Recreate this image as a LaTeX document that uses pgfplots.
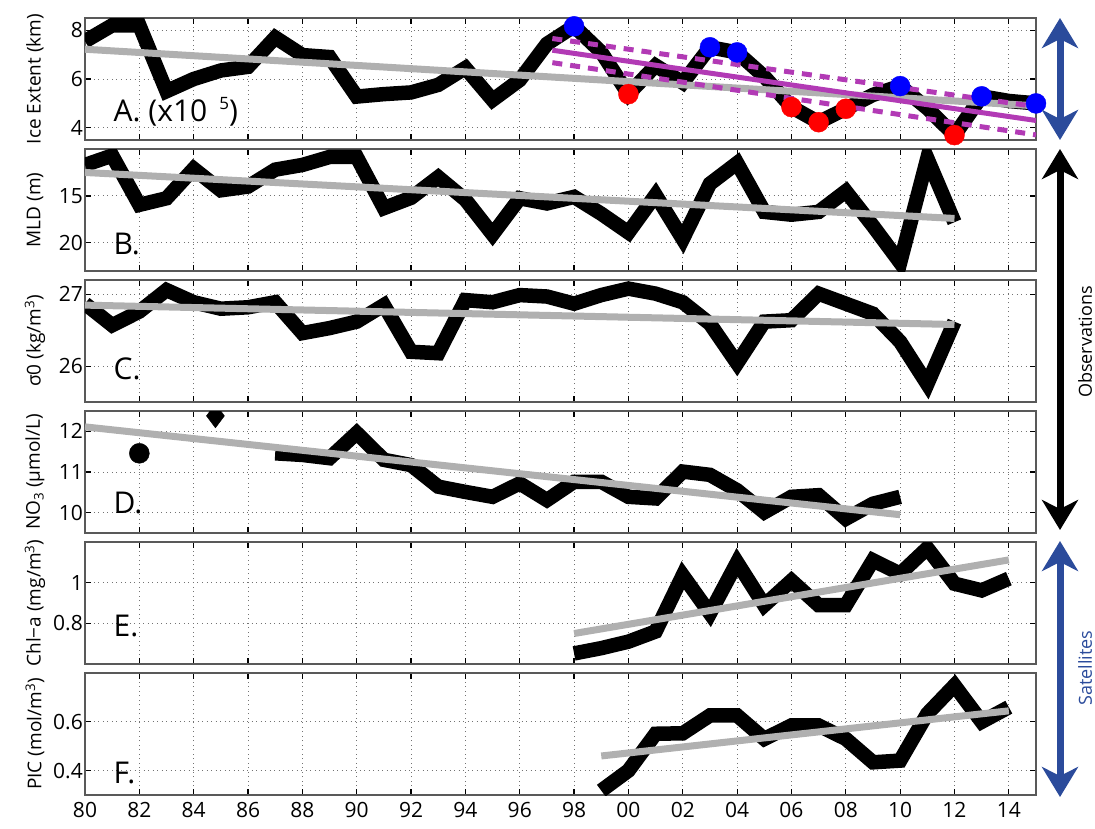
\documentclass[border=0pt]{standalone}
\usepackage{pgfplots}
\pgfplotsset{compat=1.18}
\usepackage{fontspec}
\setmainfont{Open Sans}
\usetikzlibrary{arrows.meta}
\definecolor{trendgray}{RGB}{176,176,176}
\definecolor{fitpurple}{RGB}{178,58,181}
\definecolor{arrowblue}{RGB}{43,75,155}
\tikzset{plabel/.style={anchor=base west, inner sep=0pt, font=\fontsize{30}{30}\selectfont}}
\pgfplotsset{
  panel/.style={
    scale only axis, width=951pt, height=122pt, anchor=south west,
    xmin=80, xmax=115,
    xtick={80,82,...,114},
    xticklabels={},
    grid=major,
    major grid style={dash pattern=on 1pt off 3.5pt, line width=1pt, black!55},
    axis line style={black!65, line width=1.5pt},
    tick style={black, line width=1.2pt},
    major tick length=6pt,
    tick align=inside,
    /pgf/number format/assume math mode=true,
    tick label style={font=\fontsize{21}{21}\selectfont},
    yticklabel style={inner xsep=2pt},
    xticklabel style={yshift=-4pt},
    ylabel style={font=\fontsize{19}{19}\selectfont, at={(axis description cs:-0.0526,0.5)}, anchor=center},
  },
  data/.style={black, line width=14.5pt, line join=miter, miter limit=6, no marks},
  trend/.style={trendgray, line width=7pt, no marks},
}
\begin{document}
\begin{tikzpicture}
\path[use as bounding box] (-85pt,18pt) rectangle (1010pt,-810pt);

% ---------- A ----------
\begin{axis}[panel, at={(0pt,-122pt)}, ymin=3.5, ymax=8.5, ytick={4,6,8}, ylabel={Ice Extent (km)}]
\addplot[data] coordinates {
(80,7.55) (81,8.2) (82,8.2) (83,5.5) (84,6.0) (85,6.35) (86,6.5) (87,7.7) (88,6.98) (89,6.9)
(90,5.28) (91,5.38) (92,5.45) (93,5.76) (94,6.45) (95,5.14) (96,5.96) (97,7.44) (98,8.16) (99,7.1)
(100,5.38) (101,6.55) (102,5.85) (103,7.3) (104,7.09) (105,6.1) (106,4.85) (107,4.23) (108,4.78) (109,5.35)
(110,5.71) (111,4.8) (112,3.7) (113,5.29) (114,5.1) (115,5.0)};
\addplot[trend] coordinates {(80,7.22) (115,4.9)};
\addplot[fitpurple, line width=5pt, no marks] coordinates {(97.2,7.18) (115,4.3)};
\addplot[fitpurple, line width=5pt, dash pattern=on 10pt off 8pt, no marks] coordinates {(97.2,7.66) (115,4.87)};
\addplot[fitpurple, line width=5pt, dash pattern=on 10pt off 8pt, no marks] coordinates {(97.2,6.67) (115,3.71)};
\addplot[blue, only marks, mark=*, mark size=10pt] coordinates {(98,8.16) (103,7.3) (104,7.09) (110,5.71) (113,5.29) (115,5.0)};
\addplot[red, only marks, mark=*, mark size=10pt] coordinates {(100,5.38) (106,4.85) (107,4.23) (108,4.78) (112,3.7)};
\node[plabel] at (axis cs:81.05,4.24) {A.\ (x10\hspace{12pt}\raisebox{12pt}{\fontsize{17}{17}\selectfont 5})};
\end{axis}

% ---------- B ----------
\begin{axis}[panel, at={(0pt,-253pt)}, y dir=reverse, ymin=10, ymax=23, ytick={15,20}, ylabel={MLD (m)}]
\addplot[data] coordinates {
(80,11.7) (81,10.7) (82,15.95) (83,15.25) (84,12.1) (85,14.4) (86,14.0) (87,12.2) (88,11.7) (89,10.85)
(90,10.85) (91,16.3) (92,15.2) (93,13.0) (94,15.4) (95,19.1) (96,15.25) (97,15.8) (98,15.1) (99,16.9)
(100,18.9) (101,14.9) (102,19.6) (103,13.7) (104,11.5) (105,16.7) (106,17.0) (107,16.7) (108,14.5) (109,18.2)
(110,22.1) (111,11.0) (112,17.8)};
\addplot[trend] coordinates {(80,12.5) (112,17.4)};
\node[plabel] at (axis cs:81.05,21.2) {B.};
\end{axis}

% ---------- C ----------
\begin{axis}[panel, at={(0pt,-384pt)}, ymin=25.5, ymax=27.2, ytick={26,27}, ylabel={σ0 (kg/m\textsuperscript{3})}]
\addplot[data] coordinates {
(80,26.87) (81,26.57) (82,26.76) (83,27.06) (84,26.89) (85,26.80) (86,26.82) (87,26.89) (88,26.46) (89,26.53)
(90,26.62) (91,26.85) (92,26.2) (93,26.18) (94,26.92) (95,26.89) (96,26.99) (97,26.97) (98,26.87) (99,26.99)
(100,27.08) (101,27.01) (102,26.89) (103,26.59) (104,26.04) (105,26.62) (106,26.64) (107,27.01) (108,26.87) (109,26.73)
(110,26.34) (111,25.75) (112,26.62)};
\addplot[trend] coordinates {(80,26.85) (112,26.58)};
\node[plabel] at (axis cs:81.05,25.81) {C.};
\end{axis}

% ---------- D ----------
\begin{axis}[panel, at={(0pt,-515pt)}, ymin=9.5, ymax=12.5, ytick={10,11,12}, ylabel={NO\textsubscript{3} (µmol/L)}, clip marker paths=true]
\addplot[black, only marks, mark=*, mark size=10pt] coordinates {(82,11.46)};
\addplot[black, only marks, mark=diamond*, mark size=12pt] coordinates {(84.8,12.38)};
\addplot[data] coordinates {
(87,11.46) (88,11.42) (89,11.34) (90,11.96) (91,11.30) (92,11.17) (93,10.64) (94,10.51) (95,10.39) (96,10.72)
(97,10.31) (98,10.76) (99,10.76) (100,10.39) (101,10.35) (102,11.01) (103,10.93) (104,10.55) (105,10.01) (106,10.39)
(107,10.43) (108,9.85) (109,10.22) (110,10.39)};
\addplot[trend] coordinates {(80,12.11) (110,9.95)};
\node[plabel] at (axis cs:81.05,9.98) {D.};
\end{axis}

% ---------- E ----------
\begin{axis}[panel, at={(0pt,-646pt)}, ymin=0.6, ymax=1.2, ytick={0.8,1}, ylabel={Chl−a (mg/m\textsuperscript{3})}]
\addplot[data] coordinates {
(98,0.652) (99,0.678) (100,0.71) (101,0.76) (102,1.036) (103,0.849) (104,1.10) (105,0.889) (106,1.01) (107,0.889)
(108,0.889) (109,1.11) (110,1.044) (111,1.17) (112,0.995) (113,0.962) (114,1.02)};
\addplot[trend] coordinates {(98,0.75) (114,1.112)};
\node[plabel] at (axis cs:81.05,0.733) {E.};
\end{axis}

% ---------- F ----------
\begin{axis}[panel, at={(0pt,-777pt)}, ymin=0.3, ymax=0.8, ytick={0.4,0.6}, ylabel={PIC (mol/m\textsuperscript{3})},
  xticklabels={80,82,84,86,88,90,92,94,96,98,00,02,04,06,08,10,12,14}]
\addplot[data] coordinates {
(99,0.318) (100,0.40) (101,0.551) (102,0.553) (103,0.626) (104,0.626) (105,0.53) (106,0.585) (107,0.585) (108,0.53)
(109,0.434) (110,0.441) (111,0.633) (112,0.749) (113,0.60) (114,0.66)};
\addplot[trend] coordinates {(99,0.46) (114,0.645)};
\node[plabel] at (axis cs:81.05,0.347) {F.};
\end{axis}

% ---------- right-hand annotations ----------
\draw[arrowblue, line width=7pt, {Stealth[length=30pt,width=36pt,inset=9pt]}-{Stealth[length=30pt,width=36pt,inset=9pt]}] (975pt,0pt) -- (975pt,-122pt);
\draw[black, line width=7pt, {Stealth[length=30pt,width=36pt,inset=9pt]}-{Stealth[length=30pt,width=36pt,inset=9pt]}] (975pt,-131pt) -- (975pt,-512pt);
\draw[arrowblue, line width=7pt, {Stealth[length=30pt,width=36pt,inset=9pt]}-{Stealth[length=30pt,width=36pt,inset=9pt]}] (975pt,-523pt) -- (975pt,-779pt);
\node[rotate=90, font=\fontsize{18}{18}\selectfont, inner sep=0pt] at (1000pt,-324pt) {Observations};
\node[rotate=90, font=\fontsize{18}{18}\selectfont, inner sep=0pt, text=arrowblue] at (1000pt,-650pt) {Satellites};
\end{tikzpicture}
\end{document}
